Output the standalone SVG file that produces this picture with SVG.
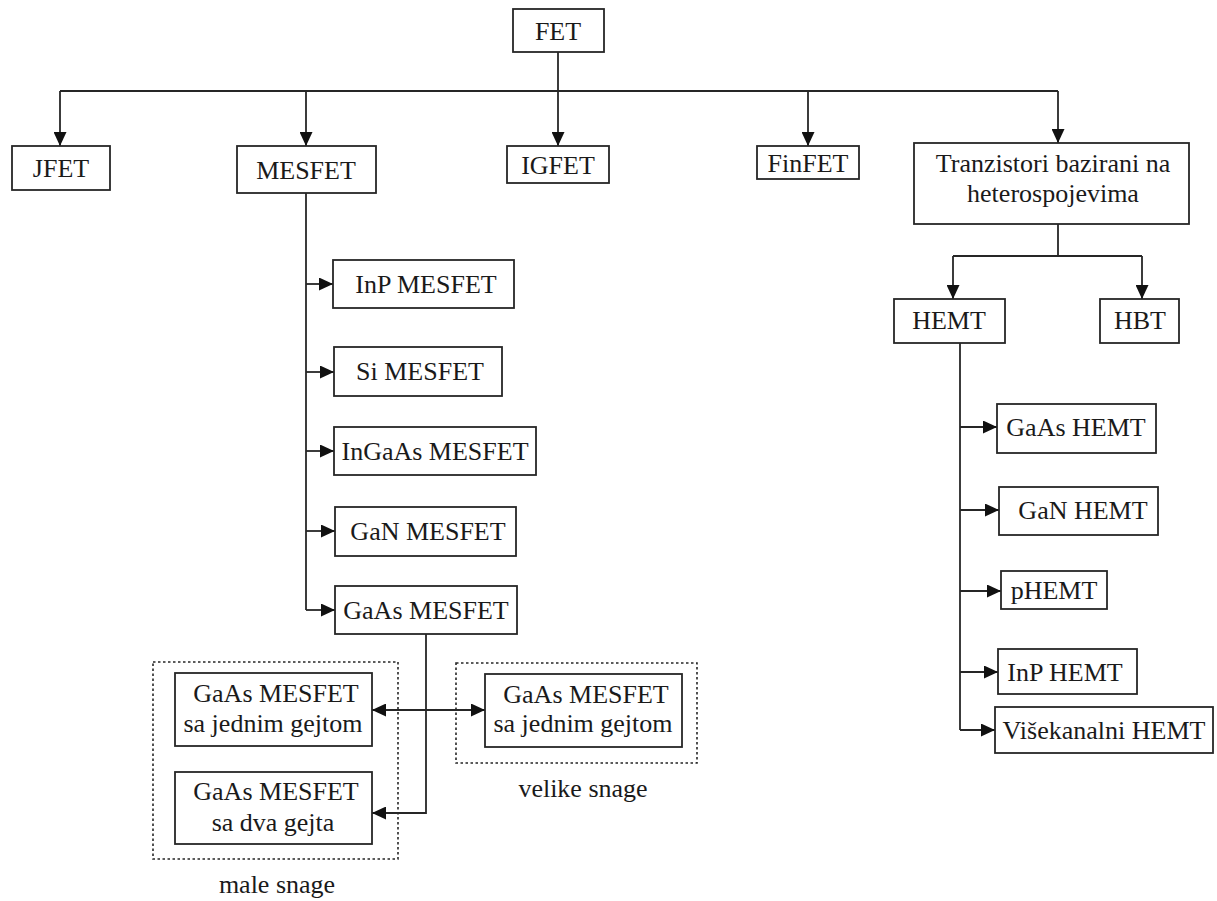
<svg xmlns="http://www.w3.org/2000/svg" width="1217" height="901" viewBox="0 0 1217 901" font-family="'Liberation Serif', 'Times New Roman', serif">
<defs>
<style>
.n rect{fill:#fff;stroke:#262626;stroke-width:1.8}
.d{fill:none;stroke:#262626;stroke-width:1.6;stroke-dasharray:2.5 2.5}
text{font-size:26px;fill:#1a1a1a;text-anchor:middle}
.c path{fill:none;stroke:#262626;stroke-width:1.8}
.a{marker-end:url(#ah)}
.b{marker-end:url(#ah);marker-start:url(#ah)}
</style>
<marker id="ah" viewBox="0 0 14 13" refX="14" refY="6.5" markerWidth="14" markerHeight="13" markerUnits="userSpaceOnUse" orient="auto-start-reverse">
<path d="M0,0 L14,6.5 L0,13 z" fill="#111"/>
</marker>
</defs>
<rect width="1217" height="901" fill="#fff"/>
<g class="c" id="connectors">
<path d="M60,91 H1058"/>
<path class="a" d="M558,52 V146"/>
<path class="a" d="M60,91 V146"/>
<path class="a" d="M306,91 V146"/>
<path class="a" d="M808,91 V146"/>
<path class="a" d="M1058,91 V143"/>
<path d="M1058,224 V256 M953,256 H1142"/>
<path class="a" d="M953,256 V299"/>
<path class="a" d="M1142,256 V299"/>
<path d="M960,343 V730"/>
<path class="a" d="M960,427 H997"/>
<path class="a" d="M960,510 H999"/>
<path class="a" d="M960,591 H1001"/>
<path class="a" d="M960,672 H998"/>
<path class="a" d="M960,730 H995"/>
<path d="M306,193 V610"/>
<path class="a" d="M306,284 H333"/>
<path class="a" d="M306,372 H334"/>
<path class="a" d="M306,451 H334"/>
<path class="a" d="M306,531 H335"/>
<path class="a" d="M306,610 H335"/>
<path class="a" d="M426,634 V813 H372"/>
<path class="b" d="M372,710 H485"/>
</g>
<g id="groups">
<rect class="d" x="153" y="662" width="245" height="197"/>
<rect class="d" x="456" y="663" width="241" height="100"/>
<text x="277" y="893">male snage</text>
<text x="583" y="797">velike snage</text>
</g>
<g class="n" id="fet"><rect x="513" y="9" width="91" height="43"/><text x="558" y="40">FET</text></g>
<g class="n" id="jfet"><rect x="12" y="146" width="98" height="44"/><text x="61" y="177">JFET</text></g>
<g class="n" id="mesfet"><rect x="237" y="146" width="139" height="47"/><text x="306" y="179">MESFET</text></g>
<g class="n" id="igfet"><rect x="507" y="146" width="102" height="37"/><text x="558" y="174">IGFET</text></g>
<g class="n" id="finfet"><rect x="757" y="146" width="102" height="33"/><text x="808" y="172">FinFET</text></g>
<g class="n" id="hetero"><rect x="914" y="143" width="275" height="81"/><text x="1053" y="172">Tranzistori bazirani na</text><text x="1053" y="202">heterospojevima</text></g>
<g class="n" id="hemt"><rect x="894" y="299" width="111" height="44"/><text x="949" y="329">HEMT</text></g>
<g class="n" id="hbt"><rect x="1100" y="299" width="79" height="44"/><text x="1140" y="329">HBT</text></g>
<g class="n" id="gaas-hemt"><rect x="997" y="404" width="159" height="49"/><text x="1076" y="436">GaAs HEMT</text></g>
<g class="n" id="gan-hemt"><rect x="999" y="487" width="159" height="48"/><text x="1083" y="519">GaN HEMT</text></g>
<g class="n" id="phemt"><rect x="1001" y="571" width="106" height="38"/><text x="1054" y="599">pHEMT</text></g>
<g class="n" id="inp-hemt"><rect x="998" y="649" width="139" height="45"/><text x="1065" y="681">InP HEMT</text></g>
<g class="n" id="visekanalni-hemt"><rect x="995" y="707" width="218" height="46"/><text x="1104" y="739">Višekanalni HEMT</text></g>
<g class="n" id="inp-mesfet"><rect x="333" y="260" width="181" height="48"/><text x="426" y="293">InP MESFET</text></g>
<g class="n" id="si-mesfet"><rect x="334" y="347" width="168" height="49"/><text x="420" y="380">Si MESFET</text></g>
<g class="n" id="ingaas-mesfet"><rect x="334" y="427" width="202" height="48"/><text x="435" y="460">InGaAs MESFET</text></g>
<g class="n" id="gan-mesfet"><rect x="335" y="507" width="181" height="49"/><text x="428" y="540">GaN MESFET</text></g>
<g class="n" id="gaas-mesfet"><rect x="335" y="586" width="182" height="48"/><text x="426" y="619">GaAs MESFET</text></g>
<g class="n" id="gaas-mesfet-1g-male"><rect x="175" y="673" width="197" height="73"/><text x="276" y="702">GaAs MESFET</text><text x="273" y="732">sa jednim gejtom</text></g>
<g class="n" id="gaas-mesfet-2g-male"><rect x="175" y="772" width="197" height="72"/><text x="276" y="800">GaAs MESFET</text><text x="273" y="831">sa dva gejta</text></g>
<g class="n" id="gaas-mesfet-1g-velike"><rect x="485" y="674" width="197" height="73"/><text x="586" y="703">GaAs MESFET</text><text x="583" y="732">sa jednim gejtom</text></g>
</svg>
